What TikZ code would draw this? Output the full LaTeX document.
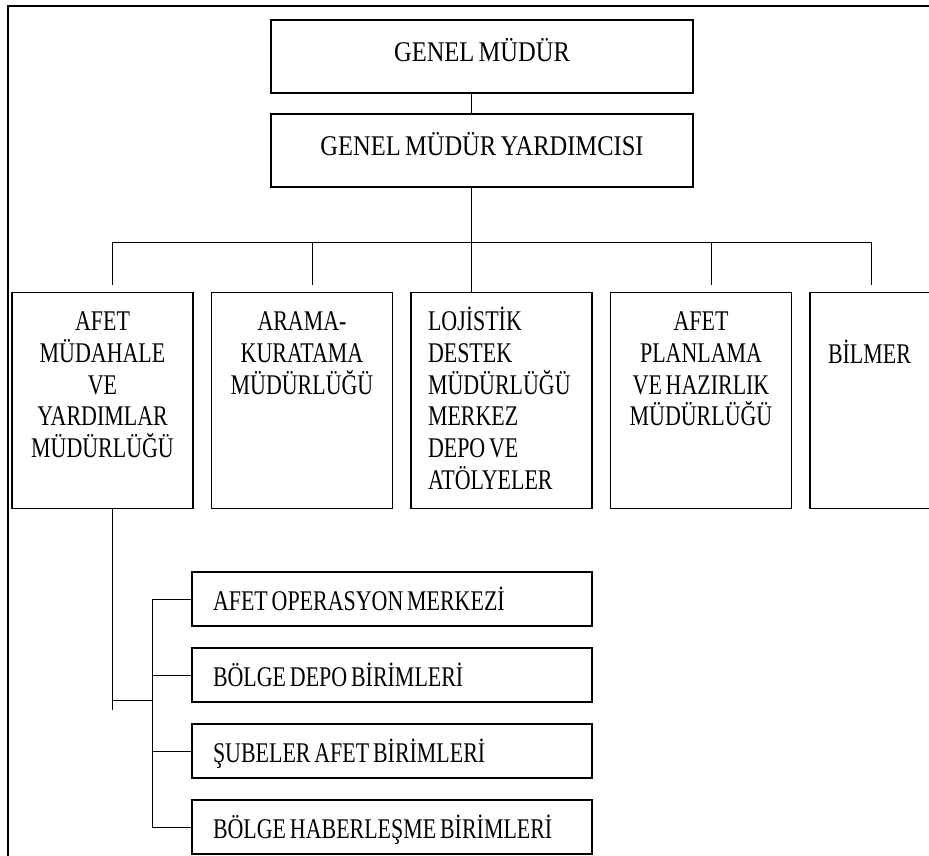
\documentclass[tikz,border=0pt]{standalone}
\usepackage{fontspec}
\setmainfont{Liberation Serif}[FakeStretch=0.77, WordSpace=0.7]
\newfontfamily\headfont{Liberation Serif}[FakeStretch=0.86, WordSpace=0.7]

\tikzset{
    frameline/.style={line width=2.2pt},
    link/.style={line width=1pt},
    head/.style={draw, line width=1.3pt, minimum width=422pt, minimum height=73pt,
        text height=11pt, text depth=0pt, font=\headfont\fontsize{28.5}{31.75}\selectfont},
    tall/.style={draw, line width=1.3pt, anchor=north, text width=147pt, inner xsep=17pt,
        inner ysep=0pt, text height=38pt, text depth=178pt, align=flush center,
        font=\fontsize{28.5}{31.75}\selectfont},
    sub/.style={draw, line width=1.3pt, text width=358pt, inner xsep=21pt, inner ysep=0pt,
        minimum height=54pt, text height=23pt, text depth=0pt, align=flush left,
        font=\fontsize{28.5}{31.75}\selectfont}
}

\begin{document}
\begin{tikzpicture}[x=1pt, y=-1pt]
    \useasboundingbox (0,0) rectangle (929,856);
    \clip (0,0) rectangle (929,856);

    \draw[frameline] (8,856) -- (8,6) -- (929,6);

    \node[head] (gm) at (482,56.5) {GENEL MÜDÜR};
    \node[head] (gmy) at (482,150.5) {GENEL MÜDÜR YARDIMCISI};

    \node[tall] (afet) at (102.5,292) {AFET\\ MÜDAHALE\\ VE\\ YARDIMLAR\\ MÜDÜRLÜĞÜ};
    \node[tall] (arama) at (302,292) {ARAMA-\\ KURATAMA\\ MÜDÜRLÜĞÜ};
    \node[tall, align=flush left] (lojistik) at (501.5,292) {LOJİSTİK\\ DESTEK\\ MÜDÜRLÜĞÜ\\ MERKEZ\\ DEPO VE\\ ATÖLYELER};
    \node[tall] (planlama) at (701,292) {AFET\\ PLANLAMA\\ VE HAZIRLIK\\ MÜDÜRLÜĞÜ};
    \node[tall, align=flush left, inner xsep=18pt, text width=145pt, text height=71pt, text depth=145pt] (bilmer) at (900.5,292) {BİLMER};

    \node[sub] (aom) at (392,599) {AFET OPERASYON MERKEZİ};
    \node[sub] (depo) at (392,675) {BÖLGE DEPO BİRİMLERİ};
    \node[sub] (sube) at (392,751) {ŞUBELER AFET BİRİMLERİ};
    \node[sub] (haber) at (392,827) {BÖLGE HABERLEŞME BİRİMLERİ};

    % top trunk and bus
    \coordinate (trunk) at (471.5,242);
    \coordinate (d1) at (112.5,242);
    \coordinate (d2) at (312,242);
    \coordinate (d4) at (711,242);
    \coordinate (d5) at (871,242);
    \draw[link] (gm.south -| trunk) -- (gmy.north -| trunk);
    \draw[link] (gmy.south -| trunk) -- (trunk) -- (lojistik.north -| trunk);
    \draw[link] (d1) -- (d5);
    \foreach \d/\b in {d1/afet, d2/arama, d4/planlama, d5/bilmer}
        \draw[link, shorten >=7pt] (\d) -- (\d |- \b.north);

    % branch below afet
    \coordinate (fork) at (112.5,700.5);
    \coordinate (spine) at (152.3,700.5);
    \draw[link] (afet.south -| fork) -- ([yshift=-9.5pt]fork);
    \draw[link] (fork) -- (spine);
    \draw[link] (spine |- aom.west) -- (spine |- haber.west);
    \foreach \s in {aom, depo, sube, haber}
        \draw[link] (spine |- \s.west) -- (\s.west);

\end{tikzpicture}
\end{document}
